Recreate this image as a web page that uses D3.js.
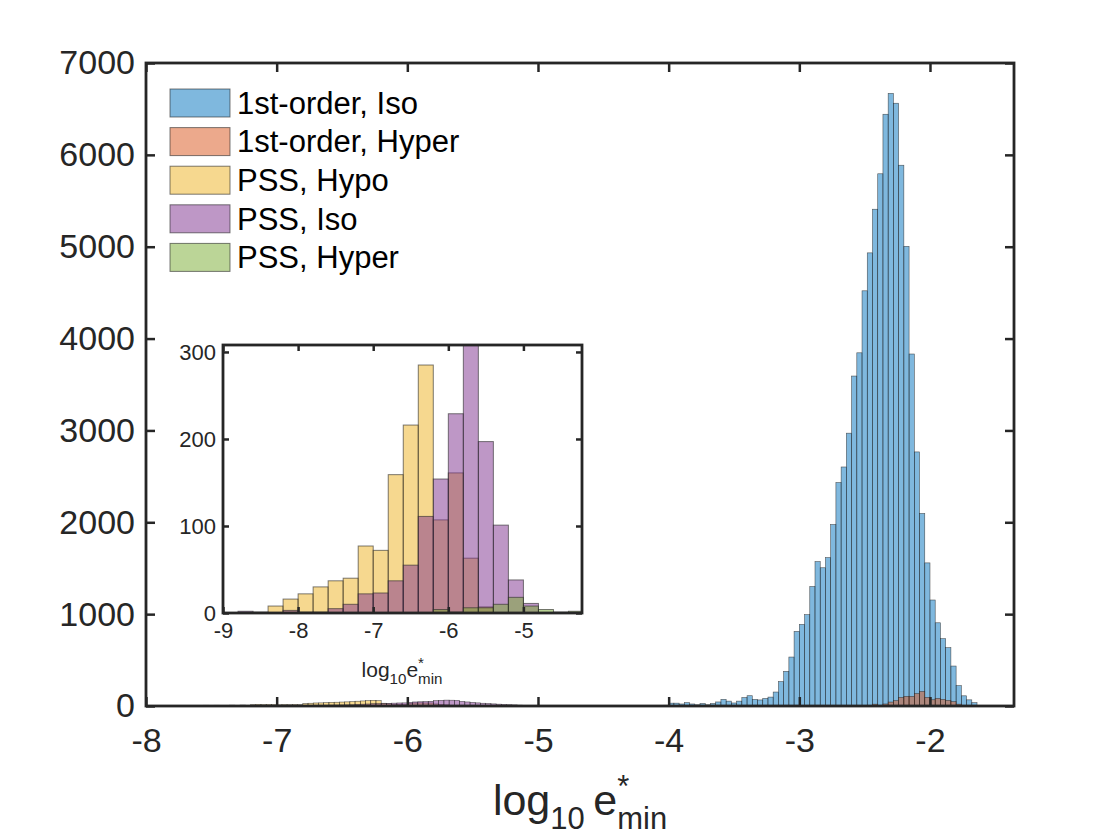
<!DOCTYPE html>
<html>
<head>
<meta charset="utf-8">
<script src="https://cdn.jsdelivr.net/npm/d3@7"></script>
<style>
  body { margin: 0; background: #fff; }
  svg { display: block; font-family: "Liberation Sans", Arial, sans-serif; }
</style>
</head>
<body>
<div id="chart"></div>
<script>
// ---- data (counts per bin) ----
const seriesNames = ["1st-order, Iso", "1st-order, Hyper", "PSS, Hypo", "PSS, Iso", "PSS, Hyper"];
const seriesColors = ["#0072BD", "#D95319", "#EDB120", "#7E2F8E", "#77AC30"];

// main histogram, bin width 0.04
const mainBinWidth = 0.04;
const isoFirstStart = -4.48;
const isoFirst = [3, 4, 2, 5, 3, 4, 6, 4, 5, 7, 6, 8,
  31, 31, 22, 36, 22, 13, 27, 13, 27, 44, 72, 53, 33, 53, 92, 112, 72, 66, 82, 97,
  152, 266, 377, 533, 812, 888, 995, 1301, 1572, 1505, 1616, 1976, 2433, 2602, 2970,
  3592, 3845, 4520, 4933, 5408, 5794, 6442, 6669, 6562, 5887, 5004, 3832, 2766, 2096,
  1558, 1154, 906, 733, 635, 435, 222, 111, 67, 36];
const hyperFirstStart = -2.44;
const hyperFirst = [20, 8, 22, 43, 58, 94, 105, 105, 135, 158, 94, 68, 83, 72, 62, 47, 20, 5];
const hypoPssStart = -8.0;
const hypoPss = [4, 5, 4, 5, 4, 6, 6, 5, 7, 6, 7, 8, 7, 8, 7,
  6, 9, 7, 10, 8, 14, 17, 15, 16, 15, 13, 15, 14, 16, 14,
  26, 30, 33, 34, 36, 40, 41, 43, 45, 47, 52, 55, 58, 62, 58,
  30, 24, 18, 17, 18, 28, 33, 34, 33, 33, 22, 16, 12, 8, 5, 3, 2, 1, 1];
const isoPssStart = -7.6;
const isoPss = [1, 1, 1, 1, 1, 2, 2, 2, 2, 2, 4, 5, 4, 5, 4, 4, 5, 5, 4, 5,
  6, 7, 8, 8, 8, 9, 10, 11, 12, 13, 18, 20, 22, 25, 26, 27, 29, 31, 33, 34,
  40, 44, 46, 48, 51, 58, 62, 64, 63, 61, 50, 44, 39, 34, 30, 27, 23, 20, 17, 14,
  12, 9, 7, 6, 4, 3, 3, 2, 2, 1];
const hyperPssStart = -6.2;
const hyperPss = [1, 1, 1, 0, 1, 0, 1, 0, 0, 1, 1, 1, 2, 1, 1, 1, 1, 2, 1, 1,
  2, 2, 2, 2, 2, 3, 4, 4, 4, 3, 2, 2, 1, 2, 1, 1, 1, 1, 0, 1, 0, 0, 0, 0, 1, 0, 1, 0, 0, 1];

// inset histogram, bin width 0.2
const insetBinWidth = 0.2;
const insetStart = -8.8;
const insetHypo = [0, 0, 8, 16, 22, 30, 37, 40, 77, 72, 159, 216, 285, 107, 161, 63, 7, 0, 0, 0, 0, 0, 0];
const insetIso = [2, 1, 0, 3, 1, 1, 5, 10, 22, 23, 37, 55, 111, 154, 229, 308, 197, 101, 38, 11, 0, 0, 0];
const insetHyper = [0, 0, 0, 0, 0, 0, 0, 0, 0, 0, 0, 0, 0, 4, 1, 6, 6, 10, 18, 8, 4, 1, 2];

const mainXTicks = [-8, -7, -6, -5, -4, -3, -2];
const mainYTicks = [0, 1000, 2000, 3000, 4000, 5000, 6000, 7000];
const insetXTicks = [-9, -8, -7, -6, -5];
const insetYTicks = [0, 100, 200, 300];

// ---- layout ----
const W = 1120, H = 840;
const axisColor = "#262626";

const svg = d3.select("#chart").append("svg").attr("width", W).attr("height", H);

function toBins(start, width, values) {
  return values.map((v, i) => ({ x0: start + i * width, x1: start + (i + 1) * width, v }))
    .filter(d => d.v > 0);
}

function drawBars(g, x, y, bins, color) {
  g.selectAll(null).data(bins).enter().append("rect")
    .attr("x", d => x(d.x0))
    .attr("width", d => x(d.x1) - x(d.x0))
    .attr("y", d => y(d.v))
    .attr("height", d => y(0) - y(d.v))
    .attr("fill", color)
    .attr("fill-opacity", 0.5)
    .attr("stroke", axisColor)
    .attr("stroke-opacity", 0.75)
    .attr("stroke-width", 0.6);
}

// draws box + inward ticks on all sides
function drawFrame(g, x, y, xt, yt, opt) {
  const [x0, x1] = x.range(), [y0, y1] = y.range();
  const fmt = d => d < 0 ? "-" + Math.abs(d) : String(d);
  const bottom = g.append("g").attr("transform", `translate(0,${y0})`)
    .call(d3.axisBottom(x).tickValues(xt).tickFormat(fmt)
      .tickSizeInner(-opt.tick).tickSizeOuter(0).tickPadding(opt.xpad));
  const left = g.append("g").attr("transform", `translate(${x0},0)`)
    .call(d3.axisLeft(y).tickValues(yt).tickFormat(fmt)
      .tickSizeInner(-opt.tick).tickSizeOuter(0).tickPadding(opt.ypad));
  const top = g.append("g").attr("transform", `translate(0,${y1})`)
    .call(d3.axisTop(x).tickValues(xt).tickSizeInner(-opt.tick).tickSizeOuter(0).tickFormat(""));
  const right = g.append("g").attr("transform", `translate(${x1},0)`)
    .call(d3.axisRight(y).tickValues(yt).tickSizeInner(-opt.tick).tickSizeOuter(0).tickFormat(""));
  [bottom, left, top, right].forEach(a => {
    a.select(".domain").remove();
    a.selectAll("line").attr("stroke", axisColor).attr("stroke-width", opt.tickW);
    a.selectAll("text").attr("fill", axisColor).style("font-size", opt.font + "px")
      .style("font-family", "'Liberation Sans', Arial, sans-serif");
  });
  g.append("rect").attr("x", x0).attr("y", y1).attr("width", x1 - x0).attr("height", y0 - y1)
    .attr("fill", "none").attr("stroke", axisColor).attr("stroke-width", opt.frameW);
}

// label with TeX-like sub/superscripts
function texLabel(g, cx, y, size, parts) {
  const lg = g.append("g");
  let xPos = 0, maxX = 0;
  parts.forEach(p => {
    const small = p.sub || p.sup;
    const fs = small ? size * 0.72 : size;
    const dy = p.sub ? size * 0.32 : p.sup ? -size * 0.42 : 0;
    const t = lg.append("text").attr("x", xPos).attr("y", dy)
      .style("font-size", fs + "px").attr("fill", axisColor).text(p.t);
    const w = t.node().getComputedTextLength();
    maxX = Math.max(maxX, xPos + w);
    if (!p.keep) xPos += w;
  });
  lg.attr("transform", `translate(${cx - maxX / 2},${y})`);
}

// ---- main axes ----
const x = d3.scaleLinear().domain([-8, -1.357]).range([146, 1014]);
const y = d3.scaleLinear().domain([0, 7000]).range([706, 63]);

const mainG = svg.append("g");
drawBars(mainG, x, y, toBins(isoFirstStart, mainBinWidth, isoFirst), seriesColors[0]);
drawBars(mainG, x, y, toBins(hyperFirstStart, mainBinWidth, hyperFirst), seriesColors[1]);
drawBars(mainG, x, y, toBins(hypoPssStart, mainBinWidth, hypoPss), seriesColors[2]);
drawBars(mainG, x, y, toBins(isoPssStart, mainBinWidth, isoPss), seriesColors[3]);
drawBars(mainG, x, y, toBins(hyperPssStart, mainBinWidth, hyperPss), seriesColors[4]);

drawFrame(svg.append("g"), x, y, mainXTicks, mainYTicks,
  { tick: 9, tickW: 2.5, frameW: 2.8, font: 34, xpad: 22, ypad: 11 });

texLabel(svg, 580, 815, 43, [
  { t: "log" }, { t: "10", sub: true }, { t: "\u2009e" }, { t: "*", sup: true, keep: true }, { t: "min", sub: true }
]);

// ---- legend ----
const legend = svg.append("g").attr("transform", "translate(170,103)");
seriesNames.forEach((name, i) => {
  const row = legend.append("g").attr("transform", `translate(0,${i * 38.6})`);
  row.append("rect").attr("x", 0).attr("y", -14).attr("width", 60).attr("height", 28)
    .attr("fill", seriesColors[i]).attr("fill-opacity", 0.5)
    .attr("stroke", axisColor).attr("stroke-opacity", 0.6).attr("stroke-width", 1);
  row.append("text").attr("x", 67).attr("dy", "0.35em").style("font-size", "31px")
    .attr("fill", "#000").text(name);
});

// ---- inset ----
const ix = d3.scaleLinear().domain([-9, -4.22]).range([223, 582]);
const iy = d3.scaleLinear().domain([0, 308]).range([613, 345]);

const insetG = svg.append("g");
insetG.append("rect").attr("x", 223).attr("y", 345).attr("width", 359).attr("height", 268).attr("fill", "#fff");
svg.append("clipPath").attr("id", "insetClip").append("rect")
  .attr("x", 223).attr("y", 345).attr("width", 359).attr("height", 268);
const insetBars = insetG.append("g").attr("clip-path", "url(#insetClip)");
drawBars(insetBars, ix, iy, toBins(insetStart, insetBinWidth, insetHypo), seriesColors[2]);
drawBars(insetBars, ix, iy, toBins(insetStart, insetBinWidth, insetIso), seriesColors[3]);
drawBars(insetBars, ix, iy, toBins(insetStart, insetBinWidth, insetHyper), seriesColors[4]);
insetBars.selectAll("rect").attr("stroke-width", 1).attr("stroke-opacity", 0.6);

drawFrame(insetG.append("g"), ix, iy, insetXTicks, insetYTicks,
  { tick: 6, tickW: 2.5, frameW: 2.8, font: 22, xpad: 9, ypad: 7 });

texLabel(svg, 402, 677, 21, [
  { t: "log" }, { t: "10", sub: true }, { t: "e" }, { t: "*", sup: true, keep: true }, { t: "min", sub: true }
]);
</script>
</body>
</html>
